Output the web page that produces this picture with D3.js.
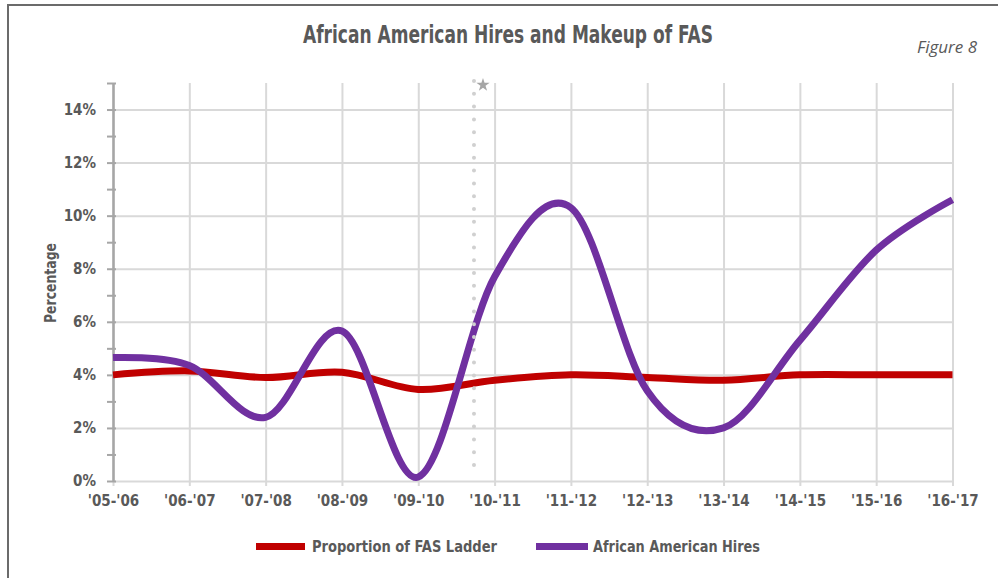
<!DOCTYPE html>
<html>
<head>
<meta charset="utf-8">
<script src="https://cdn.jsdelivr.net/npm/d3@7"></script>
<style>
  body { margin: 0; background: white; }
  .cond { font-family: "Liberation Sans Narrow", "DejaVu Sans Condensed", sans-serif; }
</style>
</head>
<body>
<div id="chart"></div>
<script>
var categories = ["'05-'06", "'06-'07", "'07-'08", "'08-'09", "'09-'10", "'10-'11",
                  "'11-'12", "'12-'13", "'13-'14", "'14-'15", "'15-'16", "'16-'17"];
var ladder = [4.0, 4.15, 3.9, 4.1, 3.45, 3.8, 4.0, 3.9, 3.8, 4.0, 4.0, 4.0];
var hires = [4.65, 4.35, 2.4, 5.65, 0.15, 7.7, 10.3, 3.4, 2.0, 5.3, 8.7, 10.6];
var yLabels = [0, 2, 4, 6, 8, 10, 12, 14];
var markerAt = 4.73; // dotted marker, in category steps from the first year

var W = 998, H = 578;
var textColor = "#595959";

var svg = d3.select("#chart")
  .append("svg")
  .attr("width", W)
  .attr("height", H);

// frame (only top and left edges show in the crop)
svg.append("path")
  .attr("d", "M8,578 L8,5 L998,5")
  .style("fill", "none")
  .style("stroke", "#6b6b6b")
  .style("stroke-width", 2);

var x = d3.scalePoint()
  .domain(categories)
  .range([113, 952.5]);

var y = d3.scaleLinear()
  .domain([0, 15])
  .range([481, 83]);

// horizontal grid
svg.append("g")
  .attr("transform", "translate(113,0)")
  .call(d3.axisLeft(y).tickValues(yLabels).tickSize(-(952.5 - 113)).tickFormat(""))
  .call(function(g) { g.select(".domain").remove(); })
  .selectAll("line")
  .style("stroke", "#d9d9d9")
  .style("stroke-width", 2);

// vertical grid, running a little below the 0% line
svg.append("g")
  .attr("transform", "translate(0," + (y(0) + 5) + ")")
  .call(d3.axisBottom(x).tickSize(-(y(0) + 5 - y(15))).tickFormat(""))
  .call(function(g) { g.select(".domain").remove(); })
  .selectAll("line")
  .style("stroke", "#d9d9d9")
  .style("stroke-width", 2);

// y axis line with ticks every 1%
var yAxis = svg.append("g")
  .attr("transform", "translate(113,0)")
  .call(d3.axisLeft(y).tickValues(d3.range(0, 16)).tickSize(6).tickSizeOuter(0).tickFormat(""));
yAxis.select(".domain")
  .style("stroke", "#a6a6a6")
  .style("stroke-width", 2.5);
yAxis.selectAll(".tick line")
  .attr("x1", 3)
  .style("stroke", "#a6a6a6")
  .style("stroke-width", 2);

// y labels
svg.append("g")
  .attr("transform", "translate(113,0)")
  .call(d3.axisLeft(y).tickValues(yLabels).tickSize(0).tickPadding(17).tickFormat(function(d) { return d + "%"; }))
  .call(function(g) { g.select(".domain").remove(); })
  .selectAll("text")
  .attr("class", "cond")
  .style("font-size", "15px")
  .style("font-weight", "bold")
  .style("fill", textColor);

// x labels
svg.append("g")
  .attr("transform", "translate(0," + y(0) + ")")
  .call(d3.axisBottom(x).tickSize(0).tickPadding(14))
  .call(function(g) { g.select(".domain").remove(); })
  .selectAll("text")
  .attr("class", "cond")
  .style("font-size", "15px")
  .style("font-weight", "bold")
  .style("fill", textColor);

var line = d3.line()
  .x(function(d, i) { return x(categories[i]); })
  .y(function(d) { return y(d); })
  .curve(d3.curveCatmullRom.alpha(0));

svg.append("path")
  .datum(ladder)
  .attr("d", line)
  .style("fill", "none")
  .style("stroke", "#c00000")
  .style("stroke-width", 7);

svg.append("path")
  .datum(hires)
  .attr("d", line)
  .style("fill", "none")
  .style("stroke", "#7030a0")
  .style("stroke-width", 7);

// dotted marker line with star
var step = x.step();
var mx = x(categories[0]) + markerAt * step;
svg.append("line")
  .attr("x1", mx)
  .attr("x2", mx)
  .attr("y1", 81)
  .attr("y2", 472)
  .style("stroke", "#d0d0d0")
  .style("stroke-width", 4)
  .style("stroke-linecap", "round")
  .style("stroke-dasharray", "0 12.8");

svg.append("path")
  .attr("d", d3.symbol(d3.symbolStar).size(55))
  .attr("transform", "translate(" + (mx + 9) + ",85)")
  .style("fill", "#a6a6a6");

// titles
svg.append("text")
  .attr("class", "cond")
  .attr("x", 508)
  .attr("y", 43)
  .attr("textLength", 410)
  .attr("lengthAdjust", "spacingAndGlyphs")
  .style("font-size", "24px")
  .style("font-weight", "bold")
  .style("text-anchor", "middle")
  .style("fill", textColor)
  .text("African American Hires and Makeup of FAS");

svg.append("text")
  .attr("x", 977)
  .attr("y", 53)
  .style("font-family", "'Open Sans', sans-serif")
  .style("font-style", "italic")
  .style("font-size", "17px")
  .style("text-anchor", "end")
  .style("fill", textColor)
  .text("Figure 8");

svg.append("text")
  .attr("class", "cond")
  .attr("transform", "translate(56,283) rotate(-90)")
  .attr("textLength", 80)
  .attr("lengthAdjust", "spacingAndGlyphs")
  .style("font-size", "16px")
  .style("font-weight", "bold")
  .style("text-anchor", "middle")
  .style("fill", textColor)
  .text("Percentage");

// legend
var legend = [
  { name: "Proportion of FAS Ladder", color: "#c00000", x: 256, w: 49, tx: 312, tw: 185 },
  { name: "African American Hires", color: "#7030a0", x: 536, w: 52, tx: 593, tw: 167 }
];

var item = svg.selectAll(".legend")
  .data(legend)
  .enter()
  .append("g")
  .attr("class", "legend");

item.append("rect")
  .attr("x", function(d) { return d.x; })
  .attr("y", 543)
  .attr("width", function(d) { return d.w; })
  .attr("height", 7)
  .style("fill", function(d) { return d.color; });

item.append("text")
  .attr("class", "cond")
  .attr("x", function(d) { return d.tx; })
  .attr("y", 552)
  .attr("textLength", function(d) { return d.tw; })
  .attr("lengthAdjust", "spacingAndGlyphs")
  .style("font-size", "16px")
  .style("font-weight", "bold")
  .style("fill", textColor)
  .text(function(d) { return d.name; });
</script>
</body>
</html>
